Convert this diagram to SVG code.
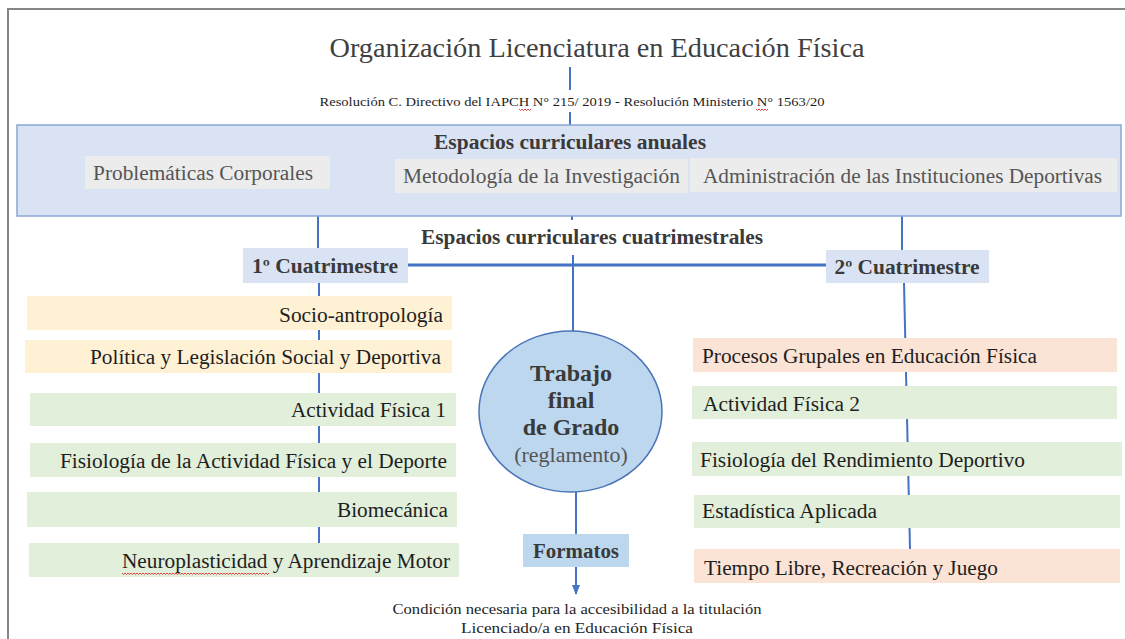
<svg xmlns="http://www.w3.org/2000/svg" width="1125" height="639" viewBox="0 0 1125 639" font-family="'Liberation Serif', 'Times New Roman', serif">
<defs>
<style>
text{font-family:'Liberation Serif','Times New Roman',serif;}
.t{font-size:20px;fill:#1e1e1e;}
.g{font-size:20px;fill:#555;}
.b{font-weight:bold;fill:#3a3a3a;}
.ln{stroke:#4472c4;stroke-width:2;fill:none;}
.yel{fill:#fff1d4;}
.grn{fill:#e2efda;}
.sal{fill:#fbe3d6;}
.lb{fill:#dae3f3;}
.wavy{stroke:#e03030;stroke-width:0.9;fill:none;}
</style>
<marker id="arr" viewBox="0 0 10 10" refX="9" refY="5" markerWidth="5" markerHeight="5" orient="auto">
<path d="M0,1 L10,5 L0,9 z" fill="#4472c4"/>
</marker>
</defs>
<rect width="1125" height="639" fill="#fff"/>
<path d="M8,639 V9 H1125" stroke="#858585" stroke-width="2" fill="none"/>

<g id="connectors">
<line class="ln" x1="570" y1="67" x2="570" y2="90"/>
<line class="ln" x1="570" y1="112" x2="570" y2="125"/>
<line class="ln" x1="318" y1="216" x2="318" y2="248"/>
<line class="ln" x1="902" y1="216" x2="902" y2="250"/>
<line class="ln" x1="572" y1="215" x2="572" y2="220"/>
<line class="ln" x1="573" y1="255" x2="573" y2="332"/>
<line stroke="#4472c4" stroke-width="3" x1="408" y1="265" x2="826" y2="265"/>
<line class="ln" x1="319" y1="283" x2="319" y2="543"/>
<line class="ln" x1="904" y1="283" x2="910" y2="549"/>
<line class="ln" x1="576" y1="492" x2="576" y2="534"/>
<line class="ln" x1="576" y1="567" x2="576" y2="594" marker-end="url(#arr)"/>
</g>

<g id="title">
<text x="597" y="57" text-anchor="middle" font-size="28" fill="#404040" textLength="535" lengthAdjust="spacingAndGlyphs">Organización Licenciatura en Educación Física</text>
</g>
<g id="resolucion">
<text x="572" y="106" text-anchor="middle" font-size="12.5" fill="#1e1e1e" textLength="505" lengthAdjust="spacingAndGlyphs">Resolución C. Directivo del IAPCH N° 215/ 2019  - Resolución Ministerio N° 1563/20</text>
<path class="wavy" d="M519,109 l1.5,1.5 l1.5,-1.5 l1.5,1.5 l1.5,-1.5 l1.5,1.5 l1.5,-1.5 l1.5,1.5 l1.5,-1.5"/>
<path class="wavy" d="M756,109 l1.5,1.5 l1.5,-1.5 l1.5,1.5 l1.5,-1.5 l1.5,1.5 l1.5,-1.5 l1.5,1.5 l1.5,-1.5"/>
</g>

<g id="anuales">
<rect x="17" y="125" width="1104" height="91" fill="#dae3f3" stroke="#8ca6d6" stroke-width="1.5"/>
<text x="570" y="149" text-anchor="middle" font-size="20" class="b" textLength="272" lengthAdjust="spacingAndGlyphs">Espacios curriculares anuales</text>
</g>
<g id="problematicas">
<rect x="85" y="156" width="245" height="33" fill="#ececec"/>
<text x="93" y="180" class="g" textLength="220" lengthAdjust="spacingAndGlyphs">Problemáticas Corporales</text>
</g>
<g id="metodologia">
<rect x="395" y="159" width="293" height="34" fill="#ececec"/>
<text x="403" y="183" class="g" textLength="277" lengthAdjust="spacingAndGlyphs">Metodología de la Investigación</text>
</g>
<g id="administracion">
<rect x="690" y="158" width="427" height="34" fill="#ececec"/>
<text x="703" y="183" class="g" textLength="399" lengthAdjust="spacingAndGlyphs">Administración de las Instituciones Deportivas</text>
</g>

<g id="cuatrimestrales">
<text x="592" y="244" text-anchor="middle" font-size="20" class="b" textLength="342" lengthAdjust="spacingAndGlyphs">Espacios curriculares cuatrimestrales</text>
</g>
<g id="cuat1">
<rect x="243" y="248" width="165" height="35" class="lb"/>
<text x="325" y="273" text-anchor="middle" font-size="20" class="b" textLength="146" lengthAdjust="spacingAndGlyphs">1º Cuatrimestre</text>
</g>
<g id="cuat2">
<rect x="826" y="250" width="163" height="33" class="lb"/>
<text x="907" y="274" text-anchor="middle" font-size="20" class="b" textLength="145" lengthAdjust="spacingAndGlyphs">2º Cuatrimestre</text>
</g>

<g id="socio">
<rect x="27" y="296" width="425" height="34" class="yel"/>
<text x="443" y="322" text-anchor="end" class="t" textLength="164" lengthAdjust="spacingAndGlyphs">Socio-antropología</text>
</g>
<g id="politica">
<rect x="25" y="340" width="427" height="33" class="yel"/>
<text x="441" y="364" text-anchor="end" class="t" textLength="351" lengthAdjust="spacingAndGlyphs">Política y Legislación Social y Deportiva</text>
</g>
<g id="af1">
<rect x="30" y="393" width="426" height="33" class="grn"/>
<text x="446" y="417" text-anchor="end" class="t" textLength="155" lengthAdjust="spacingAndGlyphs">Actividad Física 1</text>
</g>
<g id="fisio1">
<rect x="30" y="443" width="426" height="34" class="grn"/>
<text x="447" y="468" text-anchor="end" class="t" textLength="387" lengthAdjust="spacingAndGlyphs">Fisiología de la Actividad Física y el Deporte</text>
</g>
<g id="biomecanica">
<rect x="27" y="492" width="430" height="35" class="grn"/>
<text x="448" y="517" text-anchor="end" class="t" textLength="111" lengthAdjust="spacingAndGlyphs">Biomecánica</text>
</g>
<g id="neuro">
<rect x="29" y="543" width="430" height="34" class="grn"/>
<text x="450" y="568" text-anchor="end" class="t" textLength="328" lengthAdjust="spacingAndGlyphs">Neuroplasticidad y Aprendizaje Motor</text>
<path class="wavy" d="M122,573 l1.5,1.5 l1.5,-1.5 l1.5,1.5 l1.5,-1.5 l1.5,1.5 l1.5,-1.5 l1.5,1.5 l1.5,-1.5 l1.5,1.5 l1.5,-1.5 l1.5,1.5 l1.5,-1.5 l1.5,1.5 l1.5,-1.5 l1.5,1.5 l1.5,-1.5 l1.5,1.5 l1.5,-1.5 l1.5,1.5 l1.5,-1.5 l1.5,1.5 l1.5,-1.5 l1.5,1.5 l1.5,-1.5 l1.5,1.5 l1.5,-1.5 l1.5,1.5 l1.5,-1.5 l1.5,1.5 l1.5,-1.5 l1.5,1.5 l1.5,-1.5 l1.5,1.5 l1.5,-1.5 l1.5,1.5 l1.5,-1.5 l1.5,1.5 l1.5,-1.5 l1.5,1.5 l1.5,-1.5 l1.5,1.5 l1.5,-1.5 l1.5,1.5 l1.5,-1.5 l1.5,1.5 l1.5,-1.5 l1.5,1.5 l1.5,-1.5 l1.5,1.5 l1.5,-1.5 l1.5,1.5 l1.5,-1.5 l1.5,1.5 l1.5,-1.5 l1.5,1.5 l1.5,-1.5 l1.5,1.5 l1.5,-1.5 l1.5,1.5 l1.5,-1.5 l1.5,1.5 l1.5,-1.5 l1.5,1.5 l1.5,-1.5 l1.5,1.5 l1.5,-1.5 l1.5,1.5 l1.5,-1.5 l1.5,1.5 l1.5,-1.5 l1.5,1.5 l1.5,-1.5 l1.5,1.5 l1.5,-1.5 l1.5,1.5 l1.5,-1.5 l1.5,1.5 l1.5,-1.5 l1.5,1.5 l1.5,-1.5 l1.5,1.5 l1.5,-1.5 l1.5,1.5 l1.5,-1.5 l1.5,1.5 l1.5,-1.5 l1.5,1.5 l1.5,-1.5 l1.5,1.5 l1.5,-1.5 l1.5,1.5 l1.5,-1.5 l1.5,1.5 l1.5,-1.5 l1.5,1.5 l1.5,-1.5 l1.5,1.5 l1.5,-1.5"/>
</g>

<g id="trabajo">
<ellipse cx="570.5" cy="411.5" rx="91.5" ry="80.5" fill="#bdd7ee" stroke="#4a74b8" stroke-width="1.5"/>
<text x="571" y="381" text-anchor="middle" font-size="24" class="b" fill="#555">Trabajo</text>
<text x="571" y="408" text-anchor="middle" font-size="24" class="b">final</text>
<text x="571" y="435" text-anchor="middle" font-size="24" class="b">de Grado</text>
<text x="571" y="462" text-anchor="middle" font-size="22" fill="#555">(reglamento)</text>
</g>
<g id="formatos">
<rect x="523" y="534" width="106" height="33" fill="#bdd7ee"/>
<text x="576" y="558" text-anchor="middle" font-size="20" class="b" fill="#555" textLength="86" lengthAdjust="spacingAndGlyphs">Formatos</text>
</g>
<g id="condicion">
<text x="577" y="614" text-anchor="middle" font-size="14" fill="#1e1e1e" textLength="369" lengthAdjust="spacingAndGlyphs">Condición necesaria para la accesibilidad a la titulación</text>
<text x="577" y="633" text-anchor="middle" font-size="14" fill="#1e1e1e" textLength="232" lengthAdjust="spacingAndGlyphs">Licenciado/a en Educación Física</text>
</g>

<g id="procesos">
<rect x="693" y="338" width="424" height="34" class="sal"/>
<text x="702" y="363" class="t" textLength="335" lengthAdjust="spacingAndGlyphs">Procesos Grupales en Educación Física</text>
</g>
<g id="af2">
<rect x="692" y="386" width="425" height="33" class="grn"/>
<text x="703" y="411" class="t" textLength="157" lengthAdjust="spacingAndGlyphs">Actividad Física 2</text>
</g>
<g id="fisio2">
<rect x="692" y="442" width="430" height="34" class="grn"/>
<text x="700" y="467" class="t" textLength="325" lengthAdjust="spacingAndGlyphs">Fisiología del Rendimiento Deportivo</text>
</g>
<g id="estadistica">
<rect x="694" y="495" width="426" height="33" class="grn"/>
<text x="702" y="518" class="t" textLength="175" lengthAdjust="spacingAndGlyphs">Estadística Aplicada</text>
</g>
<g id="tiempo">
<rect x="694" y="549" width="426" height="34" class="sal"/>
<text x="704" y="575" class="t" textLength="294" lengthAdjust="spacingAndGlyphs">Tiempo Libre, Recreación y Juego</text>
</g>
</svg>
